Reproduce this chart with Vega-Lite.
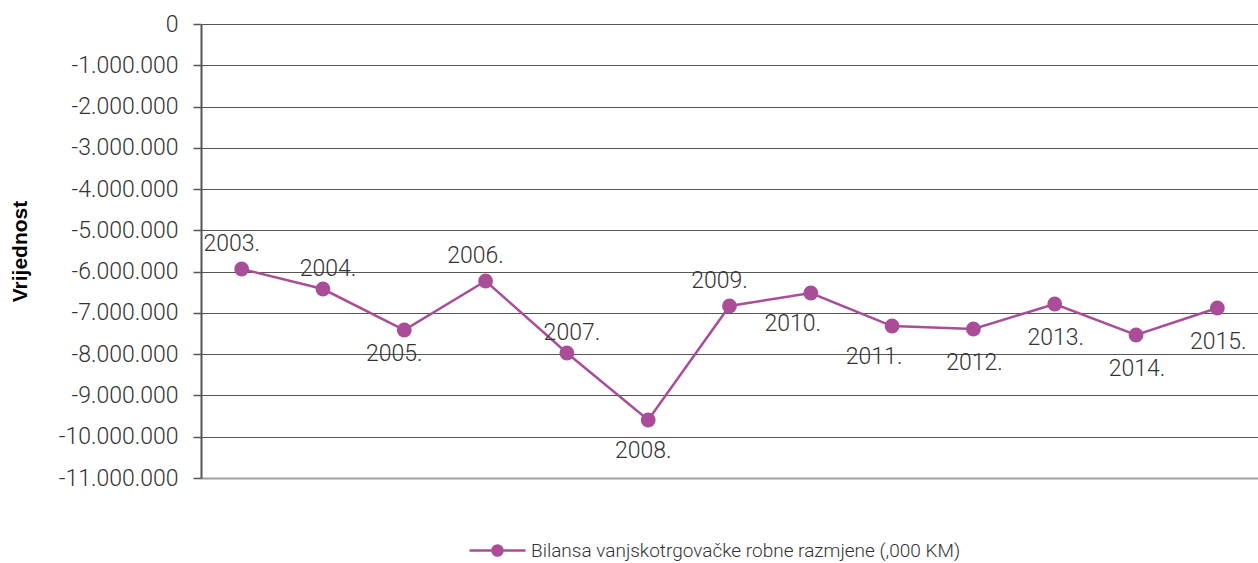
{
  "$schema": "https://vega.github.io/schema/vega-lite/v6.json",
  "width": 1057,
  "height": 454,
  "autosize": "none",
  "padding": {"left": 201, "top": 24, "right": 0, "bottom": 85},
  "background": "white",
  "config": {
    "view": {"stroke": null},
    "font": "Roboto",
    "text": {"baseline": "middle", "fontSize": 23, "fontWeight": 300, "color": "#333333"},
    "locale": {"number": {"decimal": ",", "thousands": ".", "grouping": [3], "currency": ["", ""], "minus": "-"}}
  },
  "data": {
    "values": [
      {"year": "2003.", "value": -5936000},
      {"year": "2004.", "value": -6421000},
      {"year": "2005.", "value": -7415000},
      {"year": "2006.", "value": -6227000},
      {"year": "2007.", "value": -7972000},
      {"year": "2008.", "value": -9595000},
      {"year": "2009.", "value": -6833000},
      {"year": "2010.", "value": -6518000},
      {"year": "2011.", "value": -7318000},
      {"year": "2012.", "value": -7390000},
      {"year": "2013.", "value": -6785000},
      {"year": "2014.", "value": -7536000},
      {"year": "2015.", "value": -6882000}
    ]
  },
  "encoding": {
    "x": {
      "field": "year", "type": "ordinal",
      "scale": {"type": "point", "padding": 0.5},
      "axis": {"title": null, "labels": false, "ticks": false, "grid": false, "domain": true, "domainColor": "#a0a0a0", "domainWidth": 2}
    },
    "y": {
      "field": "value", "type": "quantitative",
      "scale": {"domain": [-11000000, 0], "nice": false, "zero": false},
      "axis": {
        "title": "Vrijednost",
        "titleFont": "Liberation Sans", "titleFontWeight": "bold", "titleFontSize": 21, "titleColor": "#000000",
        "titlePadding": 28,
        "values": [0, -1000000, -2000000, -3000000, -4000000, -5000000, -6000000, -7000000, -8000000, -9000000, -10000000, -11000000],
        "format": ",.0f",
        "labelFont": "Roboto", "labelFontWeight": 300, "labelFontSize": 23, "labelColor": "#333333", "labelPadding": 15,
        "tickSize": 8, "tickColor": "#555555", "tickWidth": 1.5,
        "domain": true, "domainColor": "#555555", "domainWidth": 2,
        "grid": true, "gridColor": "#555555", "gridWidth": 1.2
      }
    }
  },
  "layer": [
    {
      "mark": {"type": "line", "strokeWidth": 2.5},
      "encoding": {
        "color": {
          "datum": "Bilansa vanjskotrgovačke robne razmjene (,000 KM)",
          "type": "nominal",
          "scale": {"range": ["#a94d99"]},
          "legend": {
            "title": null,
            "orient": "none",
            "legendX": 267,
            "legendY": 497,
            "labelFont": "Roboto", "labelFontWeight": 300, "labelFontSize": 19, "labelColor": "#333333",
            "labelOffset": 4,
            "labelLimit": 0,
            "symbolSize": 3136,
            "symbolType": "M-1,0L1,0M-0.18,0A0.18,0.18,0,1,1,0.18,0A0.18,0.18,0,1,1,-0.18,0Z",
            "symbolStrokeWidth": 2.5,
            "encode": {"symbols": {"update": {"fill": {"value": "#a94d99"}, "stroke": {"value": "#a94d99"}, "strokeWidth": {"value": 2.5}, "opacity": {"value": 1}}}}
          }
        }
      }
    },
    {
      "mark": {"type": "point", "filled": true, "size": 220, "opacity": 1},
      "encoding": {
        "color": {"datum": "Bilansa vanjskotrgovačke robne razmjene (,000 KM)", "type": "nominal"}
      }
    },
    {
      "transform": [{"filter": {"field": "year", "oneOf": ["2003.", "2006.", "2009."]}}],
      "mark": {"type": "text", "dx": -10, "dy": -25},
      "encoding": {"text": {"field": "year"}}
    },
    {
      "transform": [{"filter": {"field": "year", "oneOf": ["2004.", "2007."]}}],
      "mark": {"type": "text", "dx": 5, "dy": -20},
      "encoding": {"text": {"field": "year"}}
    },
    {
      "transform": [{"filter": {"field": "year", "oneOf": ["2005."]}}],
      "mark": {"type": "text", "dx": -10, "dy": 24},
      "encoding": {"text": {"field": "year"}}
    },
    {
      "transform": [{"filter": {"field": "year", "oneOf": ["2008."]}}],
      "mark": {"type": "text", "dx": -5, "dy": 31},
      "encoding": {"text": {"field": "year"}}
    },
    {
      "transform": [{"filter": {"field": "year", "oneOf": ["2010.", "2011."]}}],
      "mark": {"type": "text", "dx": -18, "dy": 31},
      "encoding": {"text": {"field": "year"}}
    },
    {
      "transform": [{"filter": {"field": "year", "oneOf": ["2012.", "2013.", "2014.", "2015."]}}],
      "mark": {"type": "text", "dx": 1, "dy": 34},
      "encoding": {"text": {"field": "year"}}
    }
  ]
}
